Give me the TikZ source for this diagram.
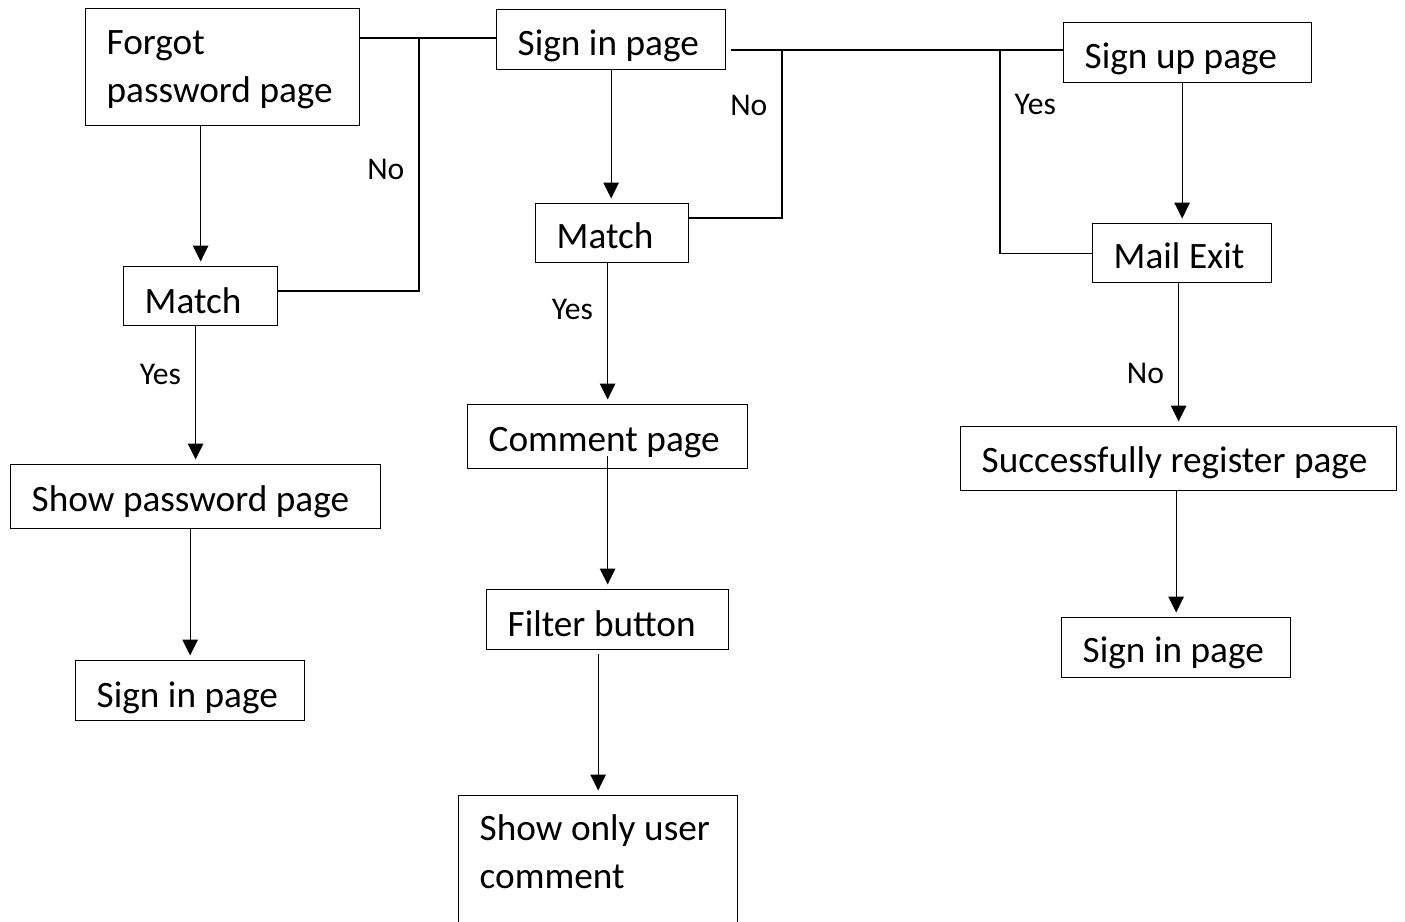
\documentclass[tikz,border=0pt]{standalone}
\usepackage{fontspec}
\setmainfont{Carlito}
\usetikzlibrary{arrows.meta}

\begin{document}
\begin{tikzpicture}[ % one unit = one pixel of the sketch
x=0.02cm, y=-0.02cm,
square/.style={rectangle, draw=black, fill=white, line width=0.75pt, anchor=north west, inner xsep=0.42cm, inner ysep=0pt, align=left, font=\fontsize{21.2}{27}\selectfont, execute at begin node={\spaceskip=4.9pt plus 1pt\relax}},
out_arrow/.style={-{Triangle[length=0.32cm, width=0.31cm]}, line width=0.7pt, shorten >=0.09cm},
plain_line/.style={line width=0.7pt},
edge_text/.style={inner xsep=0.28cm, inner ysep=0pt, font=\fontsize{18}{21}\selectfont}
]
\useasboundingbox (0,0) rectangle (1405,921);

% \node[square, text width=..., text height=..., text depth=...](name) at (top left corner) {text};
\node[square, text width=4.64cm, text height=0.92cm, text depth=1.42cm](forgot_page) at (85,8) {Forgot\\password page};
\node[square, text width=3.74cm, text height=0.92cm, text depth=0.28cm](sign_in_page) at (496,9) {Sign in page};
\node[square, text width=4.12cm, text height=0.92cm, text depth=0.28cm](sign_up_page) at (1063,22) {Sign up page};

\node[square, text width=2.24cm, text height=0.94cm, text depth=0.24cm](match_forgot) at (123,266) {Match};
\node[square, text width=2.22cm, text height=0.90cm, text depth=0.28cm](match_sign_in) at (535,203) {Match};
\node[square, text width=2.74cm, text height=0.90cm, text depth=0.28cm](mail_exit) at (1092,223) {Mail Exit};

\node[square, text width=6.56cm, text height=0.94cm, text depth=0.34cm](show_password) at (10,464) {Show password page};
\node[square, text width=4.76cm, text height=0.94cm, text depth=0.34cm](comment_page) at (467,404) {Comment page};
\node[square, text width=7.88cm, text height=0.92cm, text depth=0.36cm](register_page) at (960,426) {Successfully register page};

\node[square, text width=4.00cm, text height=0.94cm, text depth=0.26cm](filter_button) at (486,589) {Filter button};
\node[square, text width=3.74cm, text height=0.94cm, text depth=0.26cm](sign_in_left) at (75,660) {Sign in page};
\node[square, text width=3.74cm, text height=0.90cm, text depth=0.30cm](sign_in_right) at (1061,617) {Sign in page};

\node[square, text width=4.74cm, text height=0.90cm, text depth=1.90cm](user_comment) at (458,795) {Show only user\\comment};

% corners of the plain lines
\coordinate (no_forgot) at (419,38);
\coordinate (no_forgot_end) at (419,291);
\coordinate (no_sign_in) at (782,50);
\coordinate (no_sign_in_end) at (782,218);
\coordinate (yes_sign_up) at (1000,50);

% plain lines
\draw[plain_line](forgot_page.east |- no_forgot) -- (sign_in_page.west |- no_forgot);
\draw[plain_line](no_forgot) -- node[edge_text, left, pos=0.52]{No} (no_forgot_end) -- (no_forgot_end -| match_forgot.east);

\draw[plain_line]([xshift=0.1cm]sign_in_page.east |- no_sign_in) -- (sign_up_page.west |- no_sign_in);
\draw[plain_line](no_sign_in) -- node[edge_text, left, pos=0.33]{No} (no_sign_in_end) -- (no_sign_in_end -| match_sign_in.east);
\draw[plain_line](yes_sign_up) -- node[edge_text, right, pos=0.27]{Yes} (yes_sign_up |- mail_exit.west) -- (mail_exit.west);

% arrows
\draw[out_arrow](forgot_page.south -| match_forgot.north) -- (match_forgot.north);
\draw[out_arrow](match_forgot.south -| show_password.north) -- node[edge_text, left, pos=0.35]{Yes} (show_password.north);
\draw[out_arrow](show_password.south -| sign_in_left.north) -- (sign_in_left.north);

\draw[out_arrow](sign_in_page.south) -- (sign_in_page.south |- match_sign_in.north);
\draw[out_arrow](match_sign_in.south -| comment_page.north) -- node[edge_text, left, pos=0.33]{Yes} (comment_page.north);
\draw[out_arrow]([yshift=0.26cm]comment_page.south) -- (comment_page.south |- filter_button.north);
\draw[out_arrow]([yshift=-0.08cm]filter_button.south -| user_comment.north) -- (user_comment.north);

\draw[out_arrow](sign_up_page.south -| mail_exit.north) -- (mail_exit.north);
\draw[out_arrow](mail_exit.south -| register_page.north) -- node[edge_text, left, pos=0.63]{No} (register_page.north);
\draw[out_arrow](register_page.south -| sign_in_right.north) -- (sign_in_right.north);

\end{tikzpicture}
\end{document}
